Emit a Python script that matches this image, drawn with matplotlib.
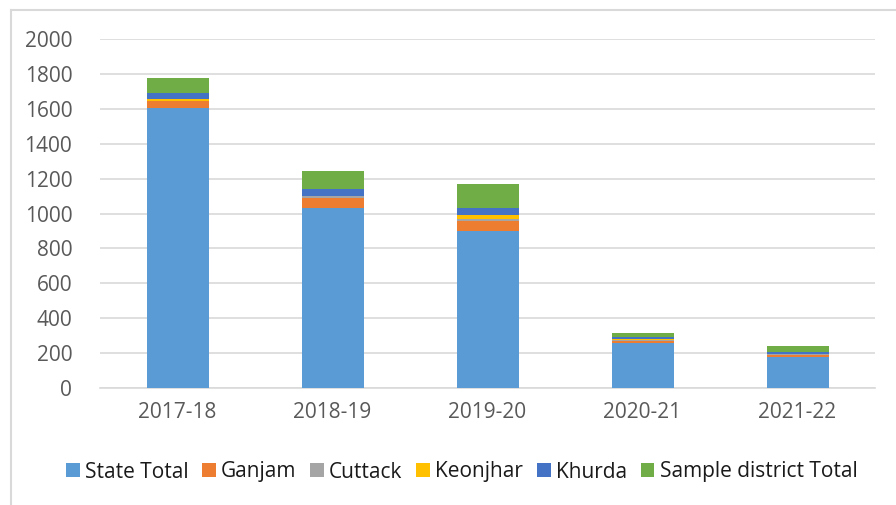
import matplotlib
matplotlib.use("Agg")
import matplotlib.pyplot as plt
import numpy as np
from matplotlib.lines import Line2D

years = ["2017-18", "2018-19", "2019-20", "2020-21", "2021-22"]
state_total = [1606, 1030, 898, 260, 179]
ganjam = [36, 61, 61, 11, 11]
cuttack = [5, 10, 11, 5, 3]
keonjhar = [7, 2, 23, 5, 2]
khurda = [34, 36, 40, 10, 11]
sample_total = [88, 103, 136, 27, 33]

series = [
    ("State Total", state_total, "#5b9bd5"),
    ("Ganjam", ganjam, "#ed7d31"),
    ("Cuttack", cuttack, "#a5a5a5"),
    ("Keonjhar", keonjhar, "#ffc000"),
    ("Khurda", khurda, "#4472c4"),
    ("Sample district Total", sample_total, "#70ad47"),
]

plt.rcParams['font.family'] = ['Open Sans', 'DejaVu Sans']

fig = plt.figure(figsize=(8.96, 5.05), dpi=100)
W, H = 896, 505
ax = fig.add_axes([100 / W, 1 - 388 / H, 775 / W, 349 / H])

x = np.arange(len(years))
bottom = np.zeros(len(years))
for name, vals, col in series:
    ax.bar(x, vals, bottom=bottom, width=0.4, color=col, label=name, zorder=3)
    bottom += np.array(vals)

ax.set_xlim(-0.5, len(years) - 0.5)
ax.set_ylim(0, 2000)
ax.set_yticks(range(0, 2001, 200))
ax.set_xticks(x)
ax.set_xticklabels(years)
ax.grid(axis='y', color='#d9d9d9', linewidth=1.2, zorder=0)
for s in ['top', 'right', 'left']:
    ax.spines[s].set_visible(False)
ax.spines['bottom'].set_color('#d9d9d9')
ax.spines['bottom'].set_linewidth(1.2)
ax.tick_params(axis='both', length=0, labelsize=15, colors='#595959')
ax.tick_params(axis='y', pad=20)
ax.tick_params(axis='x', pad=10)

leg = fig.legend(loc='center', bbox_to_anchor=(461.5 / W, 1 - 472 / H), ncol=6,
                 frameon=False, fontsize=15, handlelength=0.67, handleheight=0.67,
                 handletextpad=0.25, columnspacing=0.65)
for t in leg.get_texts():
    t.set_color('#1a1a1a')

# outer border
fig.add_artist(Line2D([11 / W, 11 / W], [0, 1 - 10 / H], transform=fig.transFigure,
                      color='#d9d9d9', linewidth=1.5))
fig.add_artist(Line2D([11 / W, 1], [1 - 10 / H, 1 - 10 / H], transform=fig.transFigure,
                      color='#d9d9d9', linewidth=1.5))

fig.savefig("out.png", dpi=100)
